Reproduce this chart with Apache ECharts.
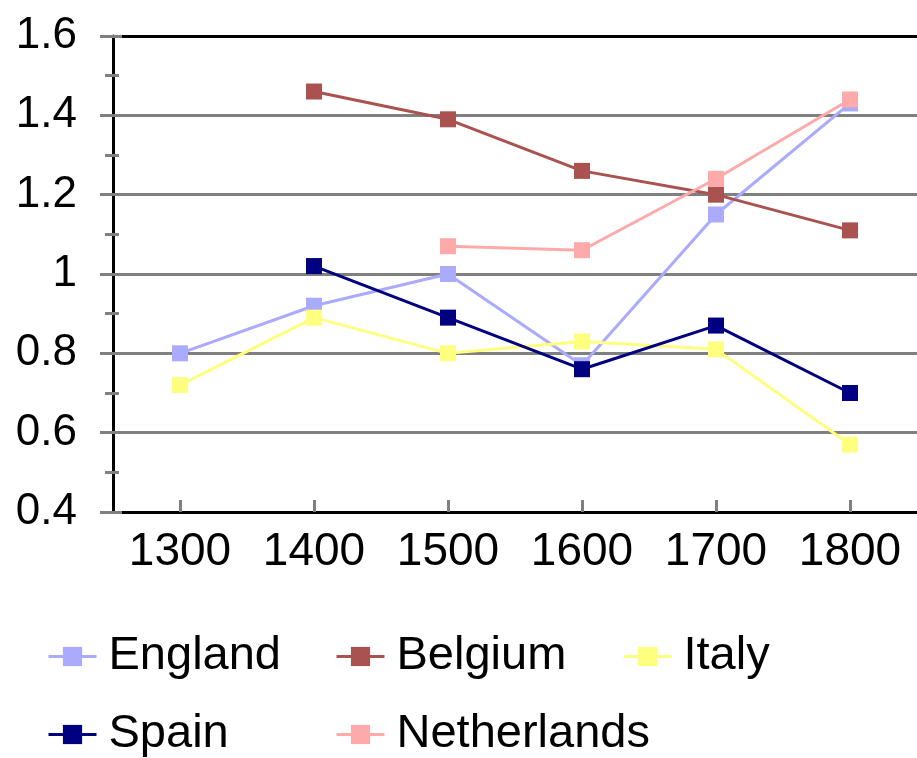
<!DOCTYPE html>
<html><head><meta charset="utf-8">
<script src="https://cdn.jsdelivr.net/npm/echarts@6/dist/echarts.min.js"></script>
<style>html,body{margin:0;padding:0;background:#fff}#c{width:917px;height:758px}</style>
</head><body><div id="c"></div>
<script>
var years = ['1300','1400','1500','1600','1700','1800'];
var england = [0.80, 0.92, 1.00, 0.77, 1.15, 1.43];
var belgium = [null, 1.46, 1.39, 1.26, 1.20, 1.11];
var italy = [0.72, 0.89, 0.80, 0.83, 0.81, 0.57];
var spain = [null, 1.02, 0.89, 0.76, 0.87, 0.70];
var netherlands = [null, null, 1.07, 1.06, 1.24, 1.44];
var seriesNames = ['England','Belgium','Italy','Spain','Netherlands'];
var seriesData = [england, belgium, italy, spain, netherlands];
var colors = ['#AAAAFF','#A9524F','#FFFF7F','#000080','#FFAAAA'];

var font = 'Liberation Sans, Arial, sans-serif';
var chart = echarts.init(document.getElementById('c'), null, {renderer:'canvas'});

var legendPos = [[47,633],[335,633],[622,633],[47,711],[335,711]];
var legends = seriesNames.map(function(n,i){
  return {data:[n], left:legendPos[i][0], top:legendPos[i][1], padding:0, itemWidth:48, itemHeight:24, itemGap:0,
    lineStyle:{width:3},
    textStyle:{fontFamily:font, fontSize:47, color:'#000', padding:[0,0,0,7]}, selectedMode:false};
});

chart.setOption({
  animation:false,
  color: colors,
  grid:{left:113, top:36, right:-3, bottom:246},
  legend: legends,
  xAxis:[{
    type:'category', data:years, boundaryGap:true, position:'bottom',
    axisLine:{lineStyle:{color:'#000', width:3}},
    axisTick:{alignWithLabel:true, length:11, lineStyle:{color:'#808080', width:3}},
    axisLabel:{fontFamily:font, fontSize:46, color:'#000', margin:17},
    splitLine:{show:false}
  },{
    type:'category', data:years, position:'top',
    axisLine:{lineStyle:{color:'#000', width:3}},
    axisTick:{show:false}, axisLabel:{show:false}, splitLine:{show:false}
  },{
    type:'category', data:years, boundaryGap:true, position:'bottom',
    axisLine:{show:false},
    axisTick:{show:true, inside:true, alignWithLabel:true, length:12, lineStyle:{color:'#808080', width:3}},
    axisLabel:{show:false}, splitLine:{show:false}
  }],
  yAxis:[{
    type:'value', min:0.4, max:1.6, interval:0.2, position:'left',
    axisLine:{show:true, lineStyle:{color:'#000', width:3}},
    axisTick:{show:true, length:13, lineStyle:{color:'#808080', width:3}},
    minorTick:{show:true, splitNumber:2, length:8, lineStyle:{color:'#808080', width:3}},
    axisLabel:{fontFamily:font, fontSize:44, color:'#000', margin:36,
      formatter:function(v){return String(Math.round(v*10)/10);}},
    splitLine:{show:true, lineStyle:{color:'#808080', width:3}}
  },{
    type:'value', min:0.4, max:1.6, interval:0.2, position:'right', offset:-807,
    axisLine:{show:true, lineStyle:{color:'rgba(0,0,0,0)', width:1}},
    axisTick:{show:true, length:12, lineStyle:{color:'#808080', width:3}},
    minorTick:{show:true, splitNumber:2, length:9, lineStyle:{color:'#808080', width:3}},
    axisLabel:{show:false}, splitLine:{show:false}
  }],
  series: seriesNames.map(function(n,i){
    return {name:n, type:'line', data:seriesData[i], symbol:'rect', symbolSize:16,
      lineStyle:{width:3, color:colors[i]}, itemStyle:{color:colors[i]}, connectNulls:false, z:2+i};
  })
});
</script>
</body></html>
